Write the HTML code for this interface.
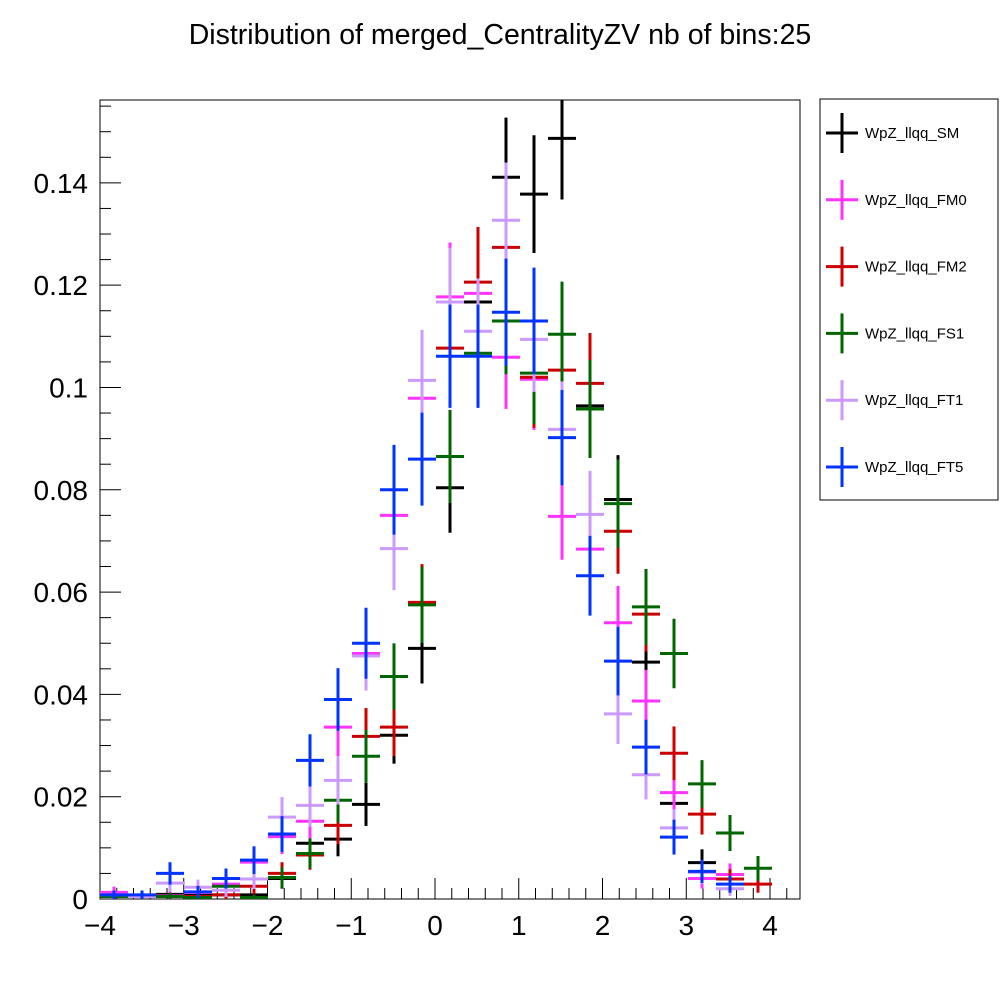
<!DOCTYPE html>
<html><head><meta charset="utf-8"><style>
body{margin:0;background:#fff;}
svg text{font-family:"Liberation Sans",sans-serif;}
</style></head><body>
<svg id="c" width="1000" height="1000" xmlns="http://www.w3.org/2000/svg">
<rect width="1000" height="1000" fill="#fff"/>
<text x="500" y="44" text-anchor="middle" font-size="28.5">Distribution of merged_CentralityZV nb of bins:25</text>
<rect x="100" y="100" width="700" height="799" fill="none" stroke="#000" stroke-width="1"/>
<g id="axes"></g>
<g id="marks"></g>
<rect x="820" y="99" width="178" height="401" fill="#fff" stroke="#000" stroke-width="1"/>
<g id="legend"></g>
</svg>
<script>
const seriesNames = ["WpZ_llqq_SM","WpZ_llqq_FM0","WpZ_llqq_FM2","WpZ_llqq_FS1","WpZ_llqq_FT1","WpZ_llqq_FT5"];
const seriesColors = ["#000000","#ff33ff","#cc0000","#006600","#cc99ff","#0033ff"];
const xMin = -4, xMax = 4.358, nBins = 25;
const yMin = 0, yMax = 0.1562;
const sm  = [0.0008,0.0005,0.0009,0.0007,0.0008,0.0008,0.0040,0.0109,0.0117,0.0185,0.0320,0.0490,0.0804,0.1167,0.1411,0.1378,0.1487,0.0964,0.0781,0.0463,0.0187,0.0071,0,0,0];
const fm0 = [0.0013,0.0005,0.0006,0.0013,0.0029,0.0072,0.0122,0.0152,0.0336,0.0480,0.0750,0.0979,0.1177,0.1184,0.1059,0.1016,0.0748,0.0684,0.0540,0.0387,0.0208,0.0040,0.0048,0,0];
const fm2 = [0.0005,0.0005,0.0005,0.0005,0.0008,0.0025,0.0050,0.0086,0.0144,0.0318,0.0336,0.0580,0.1077,0.1206,0.1274,0.1020,0.1034,0.1008,0.0719,0.0557,0.0285,0.0166,0.0039,0.0029,0];
const fs1 = [0.0005,0.0005,0.0005,0.0003,0.0025,0.0003,0.0042,0.0089,0.0193,0.0279,0.0435,0.0575,0.0865,0.1067,0.1130,0.1028,0.1104,0.0958,0.0773,0.0571,0.0480,0.0225,0.0129,0.0060,0];
const ft1 = [0.0008,0.0005,0.0031,0.0023,0.0017,0.0039,0.0160,0.0183,0.0232,0.0475,0.0685,0.1014,0.1167,0.1110,0.1327,0.1094,0.0918,0.0752,0.0362,0.0243,0.0139,0.0052,0.0020,0,0];
const ft5 = [0.0008,0.0008,0.0050,0.0014,0.0040,0.0076,0.0127,0.0271,0.0390,0.0500,0.0800,0.0860,0.1061,0.1061,0.1147,0.1130,0.0902,0.0632,0.0465,0.0297,0.0121,0.0054,0.0029,0,0];
const seriesValues = [sm,fm0,fm2,fs1,ft1,ft5];
const yTickLabels = ["0","0.02","0.04","0.06","0.08","0.1","0.12","0.14"];
const xTickLabels = ["\u22124","\u22123","\u22122","\u22121","0","1","2","3","4"];

const NS="http://www.w3.org/2000/svg";
const X0=100,X1=800,Y0=899,Y1=100;
const sx=v=>X0+(v-xMin)/(xMax-xMin)*(X1-X0);
const sy=v=>Y0-(v-yMin)/(yMax-yMin)*(Y0-Y1);
function mk(tag,attrs,parent){const e=document.createElementNS(NS,tag);for(const k in attrs)e.setAttribute(k,attrs[k]);parent.appendChild(e);return e;}
const axes=document.getElementById('axes');
for(let v=0;v<=yMax+1e-9;v+=0.005){
  const y=sy(v);const major=Math.abs(v/0.02-Math.round(v/0.02))<1e-6;
  const t=mk('line',{x1:X0,x2:X0+(major?21:11),y1:y,y2:y,stroke:'#000','stroke-width':1},axes);
  
  
}
yTickLabels.forEach((s,i)=>{
  const t=mk('text',{x:88,y:sy(i*0.02)+10,'text-anchor':'end','font-size':28},axes);t.textContent=s;
  
  
});
for(let v=-4;v<=xMax+1e-9;v+=0.2){
  const x=sx(v);const major=Math.abs(v-Math.round(v))<1e-6;
  const t=mk('line',{x1:x,x2:x,y1:Y0,y2:Y0-(major?21:11),stroke:'#000','stroke-width':1},axes);
  
  
}
xTickLabels.forEach((s,i)=>{
  const t=mk('text',{x:sx(i-4),y:935,'text-anchor':'middle','font-size':28},axes);t.textContent=s;
  
  
});
const marks=document.getElementById('marks');
const bw=(xMax-xMin)/nBins;
seriesValues.forEach((vals,si)=>{
  const g=mk('g',{},marks);
  
  
  vals.forEach((v,i)=>{
    if(!(v>0))return;
    const c=xMin+(i+0.5)*bw, err=0.031*Math.sqrt(v);
    const col=seriesColors[si];
    const h=mk('line',{x1:sx(c-bw/2),x2:sx(c+bw/2),y1:sy(v),y2:sy(v),stroke:col,'stroke-width':3},g);
    
    
    const e=mk('line',{x1:sx(c),x2:sx(c),y1:Math.max(Y1,sy(v+err)),y2:Math.min(Y0,sy(v-err)),stroke:col,'stroke-width':3},g);
    
    
  });
});
const lg=document.getElementById('legend');
seriesNames.forEach((n,i)=>{
  const y=133+i*66.8, col=seriesColors[i];
  const g=mk('g',{},lg);
  
  
  mk('line',{x1:826,x2:858,y1:y,y2:y,stroke:col,'stroke-width':3},g);
  mk('line',{x1:842,x2:842,y1:y-20,y2:y+20,stroke:col,'stroke-width':3},g);
  const t=mk('text',{x:865,y:y+5,'font-size':15},g);t.textContent=n;
});
</script>
</body></html>
